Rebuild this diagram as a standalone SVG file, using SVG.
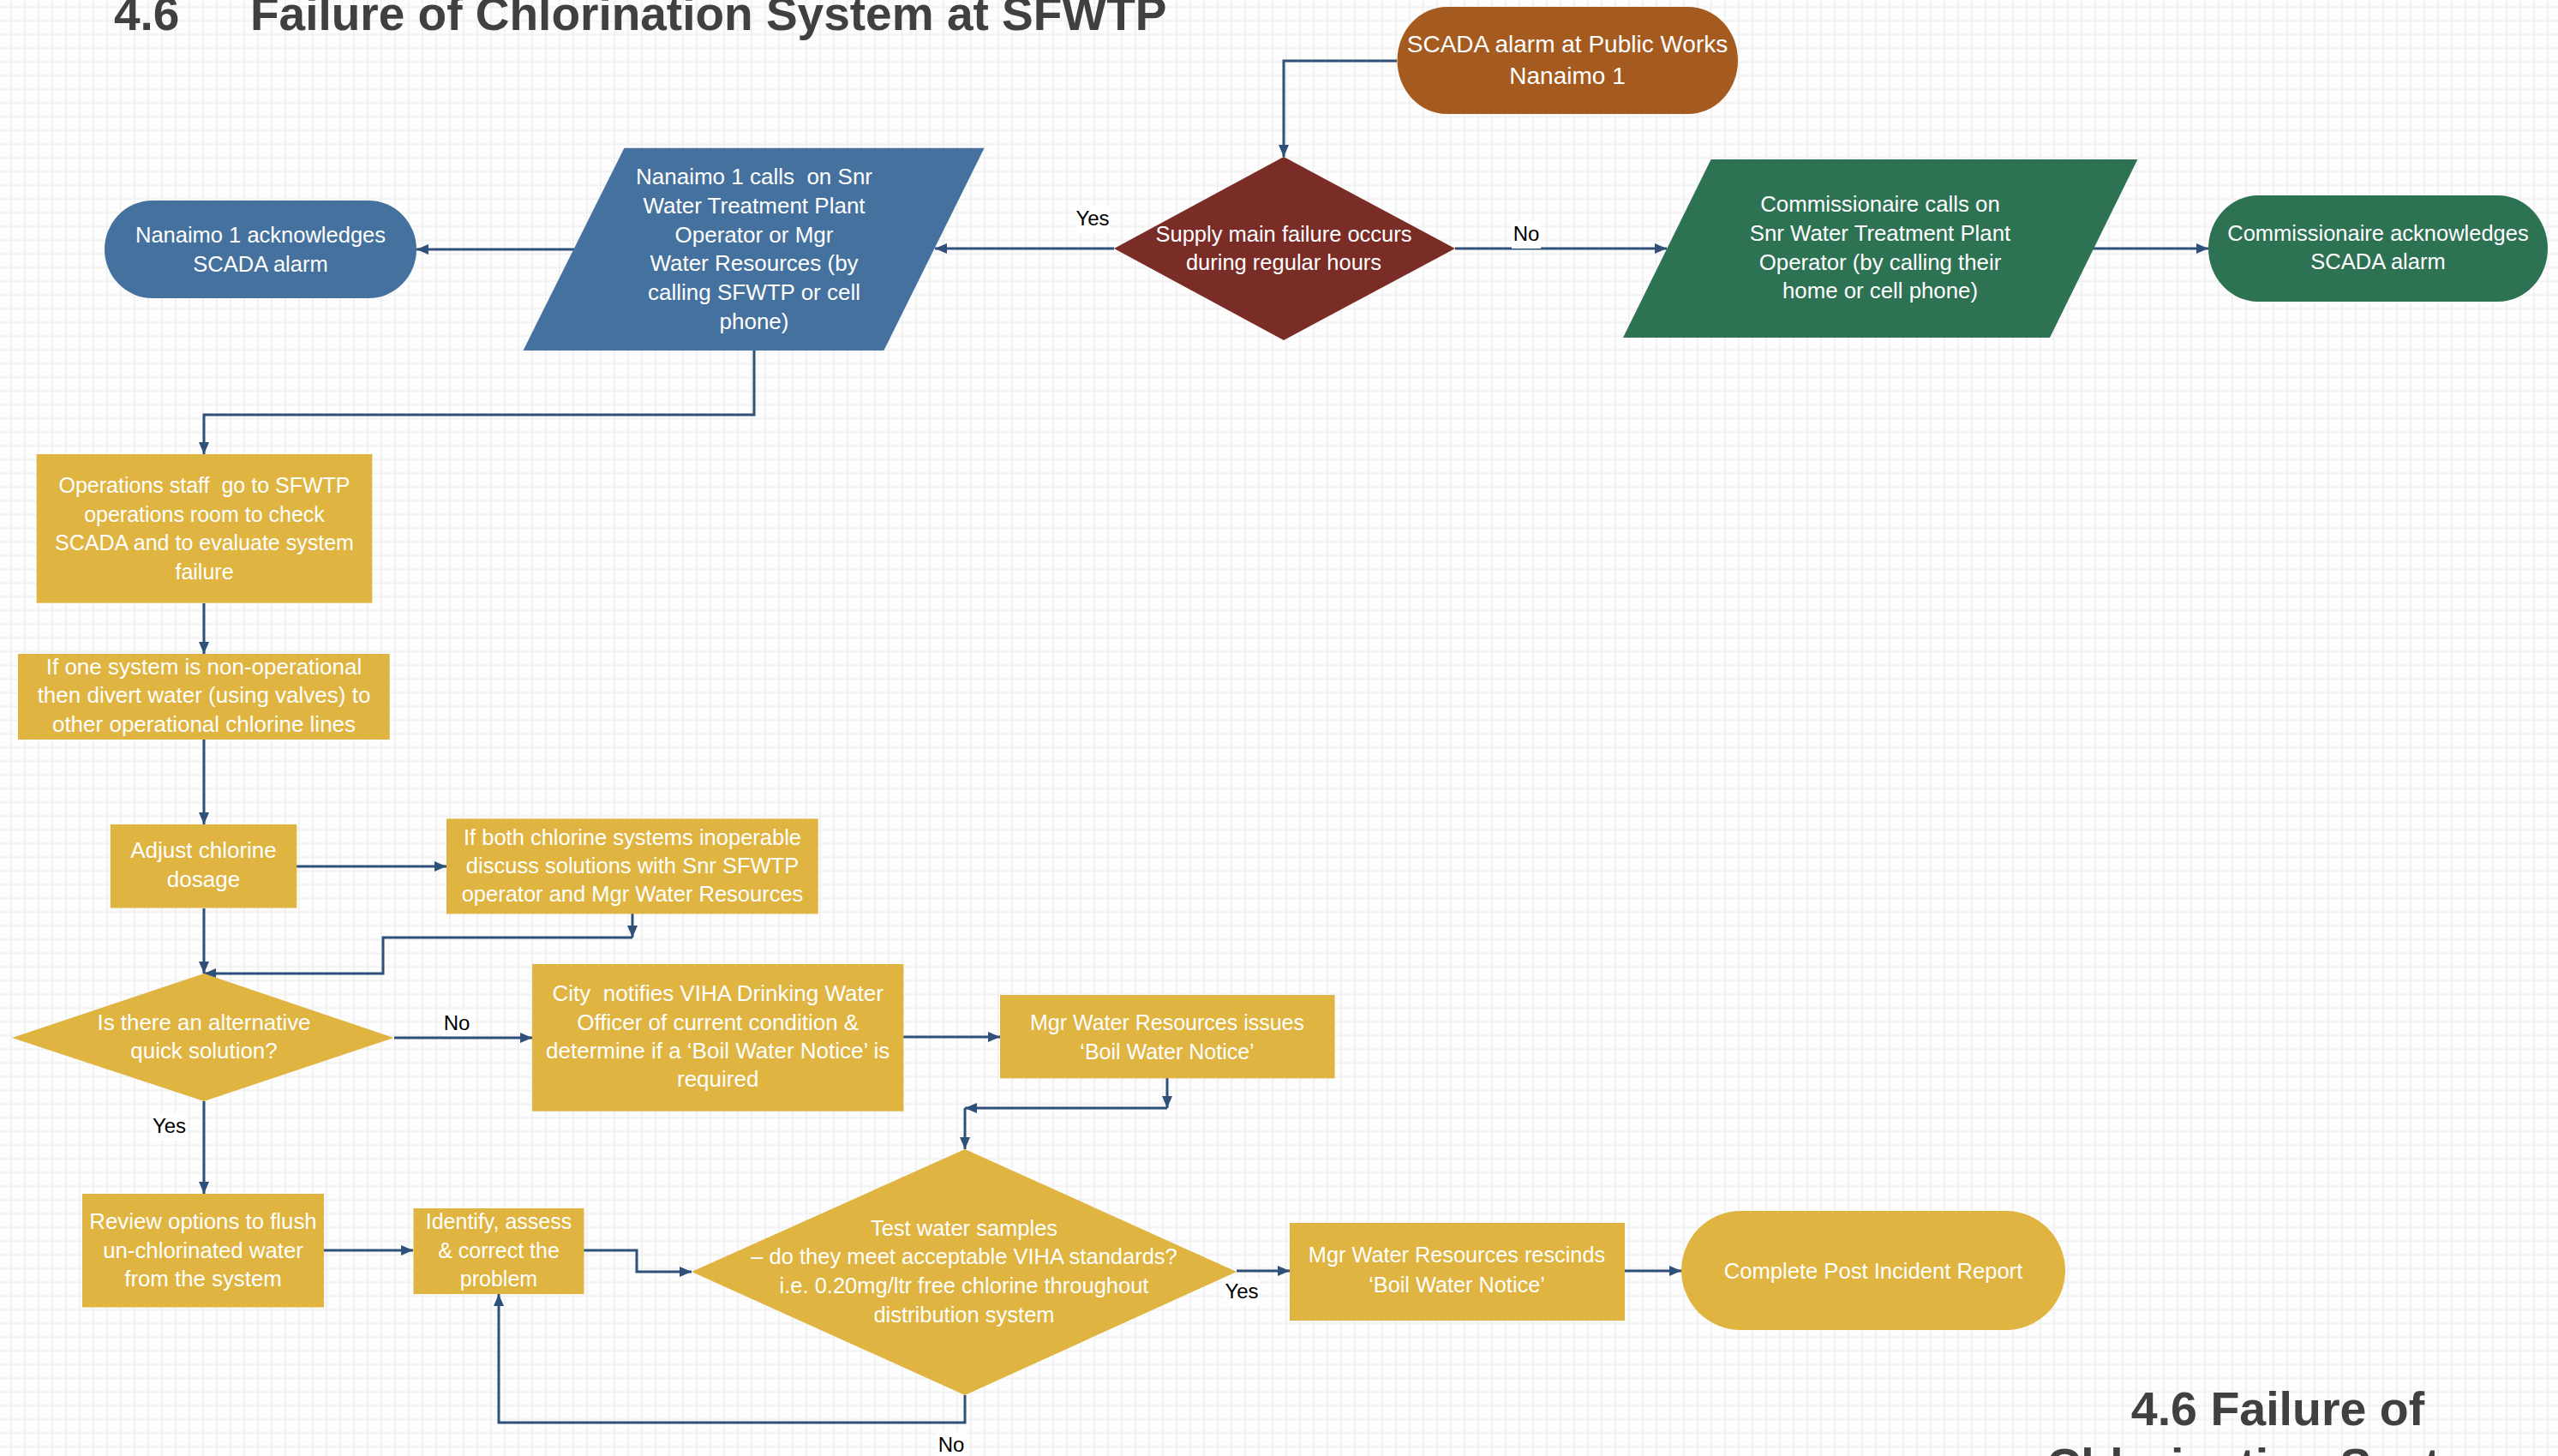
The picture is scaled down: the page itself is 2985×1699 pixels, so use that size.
<svg xmlns="http://www.w3.org/2000/svg" width="2985" height="1699" viewBox="0 0 2985 1699">
<style>
.t{font-family:"Liberation Sans",Arial,sans-serif;font-size:25.5px;fill:#ffffff;text-anchor:middle;white-space:pre}
.lbl{font-family:"Liberation Sans",Arial,sans-serif;font-size:24px;fill:#000000;text-anchor:middle}
.ttl{font-family:"Liberation Sans",Arial,sans-serif;font-weight:bold;font-size:55px;fill:#404040}
.conn{fill:none;stroke:#2E5079;stroke-width:3}
.gold{fill:#DFB440}
.blue{fill:#45719E}
.green{fill:#2E7254}
</style>
<defs>
<pattern id="grid" x="12" y="7.5" width="16" height="16" patternUnits="userSpaceOnUse">
<rect width="16" height="16" fill="#fdfdfd"/>
<rect width="16" height="1.6" fill="#efefef"/>
<rect width="1.6" height="16" fill="#efefef"/>
</pattern>
<marker id="ah" markerUnits="userSpaceOnUse" markerWidth="14" markerHeight="12" refX="14" refY="6" orient="auto">
<path d="M0,0 L14,6 L0,12 Z" fill="#2E5079"/>
</marker>
</defs>
<rect width="2985" height="1699" fill="url(#grid)"/>

<g id="titles">
<text class="ttl" x="133" y="35">4.6</text>
<text class="ttl" x="292" y="35">Failure of Chlorination System at SFWTP</text>
<text class="ttl" x="2658" y="1663" text-anchor="middle" style="font-size:55.5px">4.6 Failure of</text>
<text class="ttl" x="2658" y="1729" text-anchor="middle" style="font-size:55.5px">Chlorination System</text>
</g>

<g id="connectors">
<path class="conn" d="M1630,71 H1498 V183" marker-end="url(#ah)"/>
<path class="conn" d="M1300,290 H1091" marker-end="url(#ah)"/>
<path class="conn" d="M1698,290 H1945" marker-end="url(#ah)"/>
<path class="conn" d="M2442,290 H2577" marker-end="url(#ah)"/>
<path class="conn" d="M670,291 H486" marker-end="url(#ah)"/>
<path class="conn" d="M880,409 V484 H238 V530" marker-end="url(#ah)"/>
<path class="conn" d="M238,704 V763" marker-end="url(#ah)"/>
<path class="conn" d="M238,863 V962" marker-end="url(#ah)"/>
<path class="conn" d="M346,1011 H521" marker-end="url(#ah)"/>
<path class="conn" d="M738,1066 V1094" marker-end="url(#ah)"/>
<path class="conn" d="M738,1094 H447 V1136 H238" marker-end="url(#ah)"/>
<path class="conn" d="M238,1060 V1136" marker-end="url(#ah)"/>
<path class="conn" d="M460,1211 H621" marker-end="url(#ah)"/>
<path class="conn" d="M1054,1210 H1167" marker-end="url(#ah)"/>
<path class="conn" d="M1362,1258 V1293" marker-end="url(#ah)"/>
<path class="conn" d="M1362,1293 H1126" marker-end="url(#ah)"/>
<path class="conn" d="M1126,1293 V1341" marker-end="url(#ah)"/>
<path class="conn" d="M238,1285 V1393" marker-end="url(#ah)"/>
<path class="conn" d="M378,1459 H482" marker-end="url(#ah)"/>
<path class="conn" d="M681,1459 H743 V1484 H807" marker-end="url(#ah)"/>
<path class="conn" d="M1443,1483 H1505" marker-end="url(#ah)"/>
<path class="conn" d="M1896,1483 H1962" marker-end="url(#ah)"/>
<path class="conn" d="M1126,1628 V1660 H582 V1510" marker-end="url(#ah)"/>
</g>

<g id="labels">
<rect x="1255" y="240" width="40" height="32" fill="#ffffff"/>
<text class="lbl" x="1275" y="263">Yes</text>
<rect x="1764" y="258" width="34" height="32" fill="#ffffff"/>
<text class="lbl" x="1781" y="281">No</text>
<rect x="516" y="1179" width="34" height="30" fill="#ffffff"/>
<text class="lbl" x="533" y="1202">No</text>
<rect x="177" y="1299" width="41" height="32" fill="#ffffff"/>
<text class="lbl" x="197.5" y="1322">Yes</text>
<rect x="1429" y="1492" width="41" height="32" fill="#ffffff"/>
<text class="lbl" x="1449" y="1515">Yes</text>
<rect x="1093" y="1671" width="34" height="28" fill="#ffffff"/>
<text class="lbl" x="1110" y="1694">No</text>
</g>

<g id="scada-alarm">
<rect x="1630.5" y="8" width="397.5" height="125" rx="58" ry="62.5" fill="#A55B1F"/>
<text class="t" x="1829" y="61" style="font-size:28px">SCADA alarm at Public Works</text>
<text class="t" x="1829" y="98" style="font-size:28px">Nanaimo 1</text>
</g>

<g id="supply-main-decision">
<polygon points="1498,183 1698,290 1498,397 1300,290" fill="#7A2C26"/>
<text class="t" x="1498" y="282">Supply main failure occurs</text>
<text class="t" x="1498" y="315">during regular hours</text>
</g>

<g id="nanaimo-calls">
<polygon class="blue" points="728.4,172.7 1148.6,172.7 1031.4,409 610.5,409"/>
<text class="t" x="880" y="215" style="font-size:26px">Nanaimo 1 calls  on Snr</text>
<text class="t" x="880" y="249" style="font-size:26px">Water Treatment Plant</text>
<text class="t" x="880" y="283" style="font-size:26px">Operator or Mgr</text>
<text class="t" x="880" y="316" style="font-size:26px">Water Resources (by</text>
<text class="t" x="880" y="350" style="font-size:26px">calling SFWTP or cell</text>
<text class="t" x="880" y="384" style="font-size:26px">phone)</text>
</g>

<g id="nanaimo-ack">
<rect class="blue" x="122" y="234" width="364" height="114" rx="56" ry="57"/>
<text class="t" x="304" y="283">Nanaimo 1 acknowledges</text>
<text class="t" x="304" y="317">SCADA alarm</text>
</g>

<g id="commissionaire-calls">
<polygon class="green" points="1996.6,186 2494.4,186 2392,394 1894,394"/>
<text class="t" x="2194" y="247" style="font-size:25.8px">Commissionaire calls on</text>
<text class="t" x="2194" y="281" style="font-size:25.8px">Snr Water Treatment Plant</text>
<text class="t" x="2194" y="315" style="font-size:25.8px">Operator (by calling their</text>
<text class="t" x="2194" y="348" style="font-size:25.8px">home or cell phone)</text>
</g>

<g id="commissionaire-ack">
<rect class="green" x="2577" y="228" width="396" height="124" rx="58" ry="62"/>
<text class="t" x="2775" y="281">Commissionaire acknowledges</text>
<text class="t" x="2775" y="314">SCADA alarm</text>
</g>

<g id="operations-staff">
<rect class="gold" x="42.7" y="530" width="391.6" height="173.6"/>
<text class="t" x="238.5" y="575" style="font-size:25px">Operations staff  go to SFWTP</text>
<text class="t" x="238.5" y="609" style="font-size:25px">operations room to check</text>
<text class="t" x="238.5" y="642" style="font-size:25px">SCADA and to evaluate system</text>
<text class="t" x="238.5" y="676" style="font-size:25px">failure</text>
</g>

<g id="divert-water">
<rect class="gold" x="21" y="763" width="433.7" height="100"/>
<text class="t" x="238" y="787" style="font-size:26px">If one system is non-operational</text>
<text class="t" x="238" y="820" style="font-size:26px">then divert water (using valves) to</text>
<text class="t" x="238" y="854" style="font-size:26px">other operational chlorine lines</text>
</g>

<g id="adjust-dosage">
<rect class="gold" x="128.8" y="962" width="217.5" height="97.5"/>
<text class="t" x="237.5" y="1001" style="font-size:26px">Adjust chlorine</text>
<text class="t" x="237.5" y="1035" style="font-size:26px">dosage</text>
</g>

<g id="both-inoperable">
<rect class="gold" x="521" y="955.4" width="433.7" height="111"/>
<text class="t" x="738" y="986">If both chlorine systems inoperable</text>
<text class="t" x="738" y="1019">discuss solutions with Snr SFWTP</text>
<text class="t" x="738" y="1052">operator and Mgr Water Resources</text>
</g>

<g id="alternative-decision">
<polygon class="gold" points="238,1136 459.5,1211 238,1285 14,1211"/>
<text class="t" x="238" y="1202" style="font-size:25.9px">Is there an alternative</text>
<text class="t" x="238" y="1235" style="font-size:25.9px">quick solution?</text>
</g>

<g id="city-notifies">
<rect class="gold" x="621" y="1125" width="433.4" height="171.7"/>
<text class="t" x="837.7" y="1168" style="font-size:26px">City  notifies VIHA Drinking Water</text>
<text class="t" x="837.7" y="1202" style="font-size:26px">Officer of current condition &amp;</text>
<text class="t" x="837.7" y="1235" style="font-size:26px">determine if a ‘Boil Water Notice’ is</text>
<text class="t" x="837.7" y="1268" style="font-size:26px">required</text>
</g>

<g id="issues-notice">
<rect class="gold" x="1167" y="1161" width="390.6" height="97.3"/>
<text class="t" x="1362" y="1202" style="font-size:25px">Mgr Water Resources issues</text>
<text class="t" x="1362" y="1236" style="font-size:25px">‘Boil Water Notice’</text>
</g>

<g id="test-decision">
<polygon class="gold" points="1126,1341 1443,1484 1126,1628 807,1484"/>
<text class="t" x="1125" y="1442">Test water samples</text>
<text class="t" x="1125" y="1475">– do they meet acceptable VIHA standards?</text>
<text class="t" x="1125" y="1509">i.e. 0.20mg/ltr free chlorine throughout</text>
<text class="t" x="1125" y="1543">distribution system</text>
</g>

<g id="rescinds-notice">
<rect class="gold" x="1505" y="1427" width="391" height="114"/>
<text class="t" x="1700" y="1473" style="font-size:25.3px">Mgr Water Resources rescinds</text>
<text class="t" x="1700" y="1508" style="font-size:25.3px">‘Boil Water Notice’</text>
</g>

<g id="review-options">
<rect class="gold" x="96" y="1393" width="282" height="132.5"/>
<text class="t" x="237" y="1434" style="font-size:25.8px">Review options to flush</text>
<text class="t" x="237" y="1468" style="font-size:25.8px">un-chlorinated water</text>
<text class="t" x="237" y="1501" style="font-size:25.8px">from the system</text>
</g>

<g id="identify-assess">
<rect class="gold" x="482.5" y="1410" width="199" height="100"/>
<text class="t" x="582" y="1434" style="font-size:25px">Identify, assess</text>
<text class="t" x="582" y="1468" style="font-size:25px">&amp; correct the</text>
<text class="t" x="582" y="1501" style="font-size:25px">problem</text>
</g>

<g id="post-incident">
<rect class="gold" x="1962" y="1413" width="448" height="139" rx="69.5" ry="69.5"/>
<text class="t" x="2186" y="1492" style="font-size:25.6px">Complete Post Incident Report</text>
</g>
</svg>
